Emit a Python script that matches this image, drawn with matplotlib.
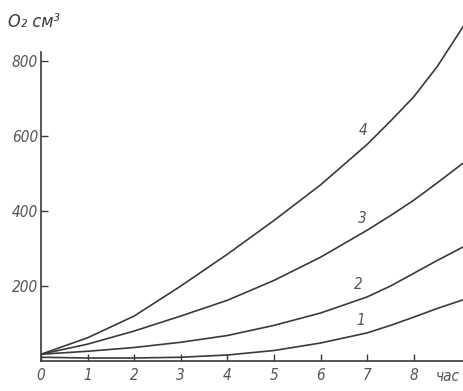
import numpy as np
import matplotlib.pyplot as plt

# hours
t = [0, 1, 2, 3, 4, 5, 6, 7, 7.5, 8, 8.5, 9.1]

# O2 consumption, cm3
curve1 = [10, 8, 8, 10, 16, 28, 48, 75, 95, 117, 140, 165]
curve2 = [18, 26, 36, 50, 68, 95, 128, 171, 200, 234, 268, 307]
curve3 = [18, 45, 80, 120, 162, 215, 277, 349, 388, 429, 475, 532]
curve4 = [18, 62, 120, 200, 285, 375, 470, 578, 640, 705, 785, 900]

curve_names = ['1', '2', '3', '4']
label_x = [6.87, 6.82, 6.9, 6.91]
label_y = [109, 203, 381, 616]

yticks = [200, 400, 600, 800]
xticks = [0, 1, 2, 3, 4, 5, 6, 7, 8]

ink = '#3a3a3a'
grey = '#555555'
font = ['DejaVu Sans']
stretch = 'condensed'

fig = plt.figure(figsize=(4.64, 3.91), dpi=100)
ax = fig.add_axes([41 / 464, 30 / 391, 424 / 464, 356 / 391])

for ys in [curve1, curve2, curve3, curve4]:
    ax.plot(t, ys, color=ink, lw=1.2, solid_capstyle='round')

for name, lx, ly in zip(curve_names, label_x, label_y):
    ax.text(lx, ly, name, color=grey, fontsize=11, style='italic',
            family=font, stretch=stretch, ha='center', va='center')

ax.set_xlim(0, 9.1)
ax.set_ylim(0, 950)
ax.spines['top'].set_visible(False)
ax.spines['right'].set_visible(False)
ax.spines['left'].set_bounds(0, 825)
for s in ['left', 'bottom']:
    ax.spines[s].set_color(ink)
    ax.spines[s].set_linewidth(1.2)

ax.set_yticks(yticks)
ax.set_xticks(xticks)
ax.set_xticklabels([str(x) for x in xticks])
ax.tick_params(direction='in', length=5, width=1, color=ink,
               labelcolor=grey, labelsize=11, pad=5)
ax.tick_params(axis='y', pad=2)
for lab in ax.get_xticklabels() + ax.get_yticklabels():
    lab.set_family(font)
    lab.set_stretch(stretch)
    lab.set_style('italic')

ax.text(8.72, -42, 'час', color=grey, fontsize=11, style='italic',
        family=font, stretch=stretch, ha='center', va='center', clip_on=False)
fig.text(8 / 464, 1 - 22 / 391, 'O₂ см³', color=ink, fontsize=13,
         style='italic', family=font, stretch=stretch, ha='left', va='center')

fig.savefig('out.png', dpi=100)
